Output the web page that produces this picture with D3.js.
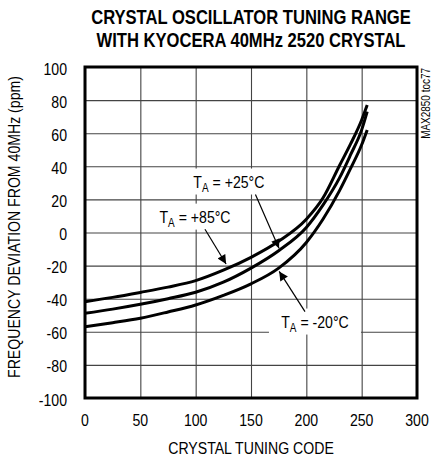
<!DOCTYPE html>
<html><head><meta charset="utf-8">
<script src="https://cdn.jsdelivr.net/npm/d3@7"></script>
<style>
body{margin:0;background:#fff;}
text{font-family:"Liberation Sans",Arial,sans-serif;}
</style></head>
<body><svg id="c" width="434" height="460"></svg>
<script>
const titleLines = ["CRYSTAL OSCILLATOR TUNING RANGE","WITH KYOCERA 40MHz 2520 CRYSTAL"];
const xTicks = [0,50,100,150,200,250,300];
const yTicks = [-100,-80,-60,-40,-20,0,20,40,60,80,100];
const codes = [0,25,50,75,100,125,150,175,200,215,230,240,250,255];
const ta85 = [-41.8,-39.2,-36.2,-33.0,-29.1,-22.8,-15.0,-5.3,8.0,20.8,40.5,53.5,68.0,77.0];
const ta25 = [-48.8,-46.3,-43.4,-40.0,-36.1,-30.0,-21.5,-11.0,3.0,16.5,33.0,47.0,62.0,73.0];
const taM20 = [-56.9,-54.5,-51.8,-48.0,-43.8,-38.0,-31.0,-21.5,-6.0,8.0,25.3,38.7,53.0,62.0];
const seriesNames = ["+85°C","+25°C","-20°C"];

const NARROW = 0.83;
const svg = d3.select("#c");
const x = d3.scaleLinear().domain([0,300]).range([85,417]);
const y = d3.scaleLinear().domain([-100,100]).range([398,67]);

function ntext(parent, px, py, size, str, anchor, rot){
  return parent.append("text")
    .attr("transform", `translate(${px},${py})` + (rot?` rotate(${rot})`:"") + ` scale(${NARROW},1)`)
    .attr("text-anchor", anchor||"middle").attr("font-size", size).text(str);
}

// title
titleLines.forEach((t,i)=>{
  ntext(svg, 251, 24+i*22.5, 20, t).attr("font-weight","bold");
});

// grid
const g = svg.append("g");
g.append("g").attr("transform","translate(0,398)")
  .call(d3.axisBottom(x).tickValues(xTicks).tickSize(-331).tickFormat(""))
  .call(s=>s.select(".domain").remove())
  .selectAll("line").attr("stroke","#444").attr("stroke-width",1.1);
g.append("g").attr("transform","translate(85,0)")
  .call(d3.axisLeft(y).tickValues(yTicks).tickSize(-332).tickFormat(""))
  .call(s=>s.select(".domain").remove())
  .selectAll("line").attr("stroke","#444").attr("stroke-width",1.1);

// tick labels
xTicks.forEach(d=>ntext(svg, x(d), 426, 17, d));
yTicks.forEach(d=>ntext(svg, 67, y(d)+7.5, 17, d, "end"));

// axis titles
ntext(svg, 251, 454, 17, "CRYSTAL TUNING CODE");
ntext(svg, 20, 227, 17, "FREQUENCY DEVIATION FROM 40MHz (ppm)", "middle", -90);
ntext(svg, 430, 68, 12, "MAX2850 toc77", "end", -90);

// curves
const line = d3.line().x(d=>x(d[0])).y(d=>y(d[1])).curve(d3.curveMonotoneX);
[ta85,ta25,taM20].forEach(vals=>{
  svg.append("path").datum(codes.map((c,i)=>[c,vals[i]]))
    .attr("d",line).attr("fill","none").attr("stroke","#000").attr("stroke-width",3);
});

// frame
svg.append("rect").attr("x",85).attr("y",67).attr("width",332).attr("height",331)
  .attr("fill","none").attr("stroke","#000").attr("stroke-width",3);

// arrow marker
svg.append("defs").append("marker").attr("id","ah").attr("viewBox","0 0 10 10")
  .attr("refX",10).attr("refY",5).attr("markerWidth",12).attr("markerHeight",9)
  .attr("markerUnits","userSpaceOnUse").attr("orient","auto")
  .append("path").attr("d","M0,0 L10,5 L0,10 Z").attr("fill","#000");

// annotations (data space)
const notes = [
  {name:seriesNames[0], cx:99.4, cy:9.6, w:80, from:[108.4,2.0], to:[127.5,-19.0]},
  {name:seriesNames[1], cx:130, cy:30.8, w:80, from:[154,23.0], to:[175.3,-9.5]},
  {name:seriesNames[2], cx:207.8, cy:-53.8, w:92, from:[198.8,-47.8], to:[175.5,-23.5]}
];
notes.forEach(n=>{
  const px=x(n.cx), py=y(n.cy);
  svg.append("rect").attr("x",px-n.w/2).attr("y",py-13).attr("width",n.w).attr("height",26).attr("fill","#fff");
  const t = svg.append("text")
    .attr("transform",`translate(${px},${py+6}) scale(${NARROW},1)`)
    .attr("text-anchor","middle").attr("font-size",17);
  t.append("tspan").text("T");
  t.append("tspan").attr("font-size",12).attr("dy",4).text("A");
  t.append("tspan").attr("dy",-4).text(" = "+n.name);
  svg.append("line").attr("x1",x(n.from[0])).attr("y1",y(n.from[1]))
    .attr("x2",x(n.to[0])).attr("y2",y(n.to[1])).attr("stroke","#000").attr("stroke-width",1.2)
    .attr("marker-end","url(#ah)");
});
</script></body></html>
